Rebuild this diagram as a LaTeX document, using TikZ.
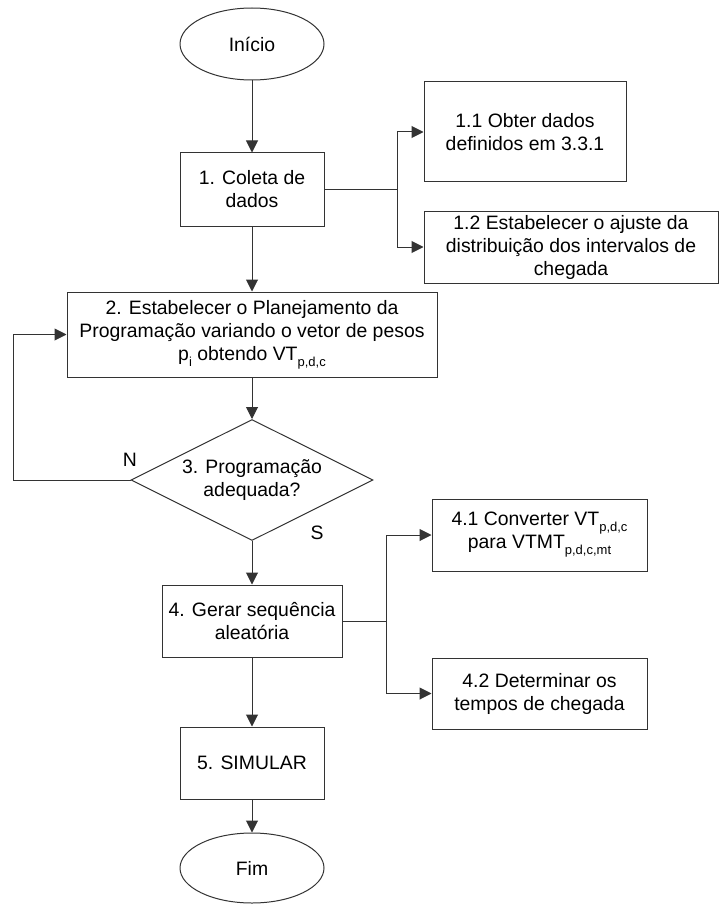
\documentclass[tikz,border=0pt]{standalone}
\usepackage{fontspec}
\setmainfont{Liberation Sans}
\usepackage{tikz}
\usetikzlibrary{arrows.meta, shapes.geometric}
\newcommand{\idx}[1]{\raisebox{-6pt}{\fontsize{13}{13}\selectfont #1}}

\begin{document}
\begin{tikzpicture}[x=1pt, y=-1pt,
      font=\fontsize{19.4}{23}\selectfont,
      box/.style={draw=black!80, line width=1pt, align=center, inner sep=0pt},
      term/.style={ellipse, draw=black!80, line width=1pt, align=center, inner sep=0pt,
                  minimum width=144pt},
      decis/.style={diamond, shape aspect=2, draw=black!80, line width=1pt, align=center,
                  inner sep=0pt, minimum width=242pt, minimum height=121pt},
      arr/.style={-{Triangle[length=12pt, width=12pt]}, line width=1pt, draw=black!80},
      lin/.style={line width=1pt, draw=black!80}]
    \useasboundingbox (0,0) rectangle (719,904);
    \node[term, minimum height=72pt] (inicio) at (252,44) {Início};
    \node[box, minimum width=144pt, minimum height=73pt] (coleta) at (252,189.5) {1. Coleta de\\dados};
    \node[box, minimum width=202pt, minimum height=100pt] (obter) at (525,132) {1.1 Obter dados\\definidos em 3.3.1};
    \node[box, minimum width=294pt, minimum height=72pt] (ajuste) at (571,247) {1.2 Estabelecer o ajuste da\\distribuição dos intervalos de\\chegada};
    \node[box, minimum width=370pt, minimum height=85pt] (plan) at (252,334.5) {2. Estabelecer o Planejamento da\\Programação variando o vetor de pesos\\p\idx{i} obtendo VT\idx{p,d,c}};
    \node[decis] (prog) at (252,480) {3. Programação\\adequada?};
    \node[box, minimum width=180pt, minimum height=72pt] (gerar) at (252,621) {4. Gerar sequência\\aleatória};
    \node[box, minimum width=215pt, minimum height=72pt] (conv) at (539.5,535) {4.1 Converter VT\idx{p,d,c}\\para VTMT\idx{p,d,c,mt}};
    \node[box, minimum width=215pt, minimum height=71pt] (tempos) at (539.5,693.5) {4.2 Determinar os\\tempos de chegada};
    \node[box, minimum width=144pt, minimum height=72pt] (simular) at (252,763) {5. SIMULAR};
    \node[term, minimum height=70pt] (fim) at (252,868) {Fim};
    \node (nlab) at (130,460) {N};
    \node (slab) at (317,533) {S};
    \coordinate (ramo1) at (397,189.5);
    \coordinate (ramo4) at (386,621);
    \coordinate (volta) at (13,480);
    \draw[arr] (inicio) -- (coleta);
    \draw[lin] (coleta.east) -- (ramo1);
    \draw[arr] (ramo1) |- (obter.west);
    \draw[arr] (ramo1) |- (ajuste.west);
    \draw[arr] (coleta) -- (plan);
    \draw[arr] (plan) -- (prog);
    \draw[arr] (prog.west) -- (volta) |- (plan.west);
    \draw[arr] (prog) -- (gerar);
    \draw[lin] (gerar.east) -- (ramo4);
    \draw[arr] (ramo4) |- (conv.west);
    \draw[arr] (ramo4) |- (tempos.west);
    \draw[arr] (gerar) -- (simular);
    \draw[arr] (simular) -- (fim);
  \end{tikzpicture}
\end{document}
